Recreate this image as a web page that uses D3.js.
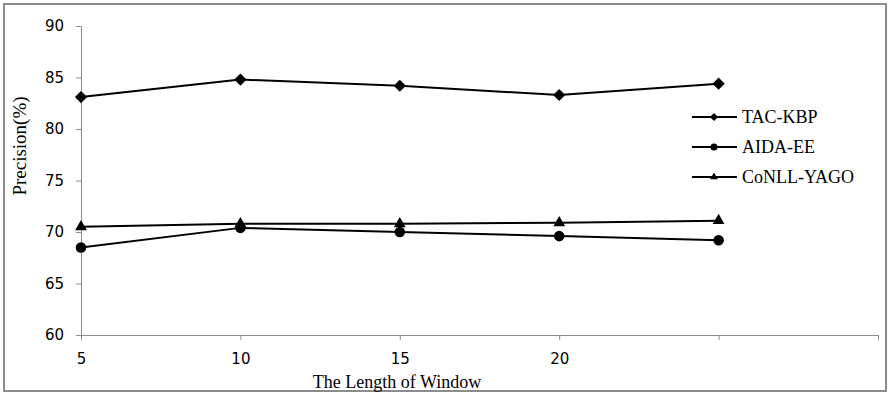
<!DOCTYPE html>
<html>
<head>
<meta charset="utf-8">
<script src="https://cdn.jsdelivr.net/npm/d3@7"></script>
<style>
  body { margin: 0; background: #fff; }
  svg { display: block; }
</style>
</head>
<body>
<svg id="chart" width="891" height="394"></svg>
<script>
// chart data
const tickLabels = ["5", "10", "15", "20", "", ""];
const seriesNames = ["TAC-KBP", "AIDA-EE", "CoNLL-YAGO"];
const tacKbp = [83.1, 84.8, 84.2, 83.3, 84.4];
const aidaEe = [68.5, 70.4, 70.0, 69.6, 69.2];
const conllYago = [70.5, 70.8, 70.8, 70.9, 71.1];
const yTicks = [60, 65, 70, 75, 80, 85, 90];

const svg = d3.select("#chart");

// outer frame
svg.append("rect")
   .attr("x", 4).attr("y", 4)
   .attr("width", 882).attr("height", 387)
   .attr("fill", "none")
   .attr("stroke", "#8c8c8c")
   .attr("stroke-width", 2);

const x = d3.scalePoint()
            .domain(d3.range(tickLabels.length))
            .range([81, 878]);

const y = d3.scaleLinear()
            .domain([60, 90])
            .range([335, 26]);

// y axis
const yAxis = svg.append("g")
   .attr("transform", "translate(81,0)")
   .call(d3.axisLeft(y).tickValues(yTicks).tickSize(5).tickPadding(12));

// x axis
const xAxis = svg.append("g")
   .attr("transform", "translate(0,335)")
   .call(d3.axisBottom(x).tickFormat(i => tickLabels[i]).tickSizeInner(5).tickSizeOuter(0).tickPadding(13));

[yAxis, xAxis].forEach(g => {
  g.selectAll("path, line").attr("stroke", "#8c8c8c");
  g.selectAll("text")
   .attr("fill", "#000")
   .style("font-family", "'DejaVu Sans', sans-serif")
   .style("font-size", "15px");
});

// axis titles
svg.append("text")
   .attr("x", 397).attr("y", 388)
   .attr("text-anchor", "middle")
   .style("font-family", "'Liberation Serif', serif")
   .style("font-size", "18px")
   .text("The Length of Window");

svg.append("text")
   .attr("transform", "translate(26,146) rotate(-90)")
   .attr("text-anchor", "middle")
   .style("font-family", "'Liberation Serif', serif")
   .style("font-size", "19px")
   .text("Precision(%)");

const series = [
  { name: seriesNames[0], values: tacKbp, symbol: d3.symbolDiamond2, size: 95 },
  { name: seriesNames[1], values: aidaEe, symbol: d3.symbolCircle, size: 88 },
  { name: seriesNames[2], values: conllYago, symbol: d3.symbolTriangle, size: 60 }
];

const line = d3.line()
               .x((d, i) => x(i))
               .y(d => y(d));

series.forEach(s => {
  svg.append("path")
     .datum(s.values)
     .attr("d", line)
     .attr("fill", "none")
     .attr("stroke", "#000")
     .attr("stroke-width", 2);

  svg.selectAll(null)
     .data(s.values)
     .enter().append("path")
     .attr("transform", (d, i) => `translate(${x(i)},${y(d)})`)
     .attr("d", d3.symbol().type(s.symbol).size(s.size))
     .attr("fill", "#000");
});

// legend
const legend = svg.append("g").attr("transform", "translate(692,117)");
series.forEach((s, i) => {
  const row = legend.append("g").attr("transform", `translate(0,${i * 30})`);
  row.append("line")
     .attr("x1", 0).attr("x2", 45)
     .attr("stroke", "#000").attr("stroke-width", 2);
  row.append("path")
     .attr("transform", "translate(22,0)")
     .attr("d", d3.symbol().type(s.symbol).size(s.size * 0.45))
     .attr("fill", "#000");
  row.append("text")
     .attr("x", 50).attr("y", 6)
     .style("font-family", "'Liberation Serif', serif")
     .style("font-size", "18px")
     .text(s.name);
});
</script>
</body>
</html>
